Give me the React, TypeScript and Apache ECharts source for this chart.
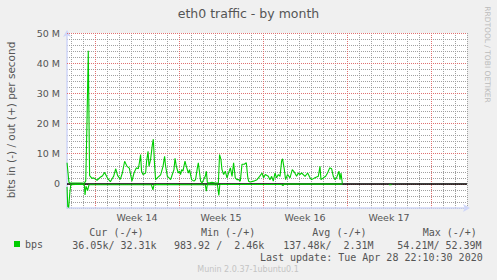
import React, { useEffect, useRef } from "react";
import * as echarts from "echarts";

// x = days since Monday 30 Mar 2020 00:00 (start of Week 14), y = Mbit/s
const outTraffic: [number, number][] = [
  [-2.33, 7.0], [-2.17, 0.5], [-2.06, 0.3], [-1.64, 0.3], [-1.12, 0.3], [-0.89, 0.2], [-0.77, 1.0],
  [-0.67, 20], [-0.56, 44.1], [-0.45, 2.7], [-0.25, 1.8], [-0.12, 2.0], [0.17, 1.2], [0.44, 2.2],
  [0.63, 2.7], [0.8, 3.8], [1.03, 2.0], [1.28, 0.7], [1.55, 2.5], [1.73, 5.0], [1.88, 2.8], [2.11, 1.5],
  [2.28, 3.6], [2.47, 7.5], [2.67, 5.8], [2.86, 5.2], [3.08, 0.9], [3.25, 3.6], [3.44, 5.3], [3.61, 5.0],
  [3.72, 7.5], [3.8, 9.7], [3.88, 4.2], [4.0, 3.1], [4.22, 3.6], [4.3, 7.5], [4.42, 10.8], [4.5, 5.8],
  [4.63, 8.0], [4.78, 13.0], [4.86, 14.8], [4.97, 5.8], [5.05, 1.4], [5.19, 2.0], [5.33, 2.5], [5.47, 3.0],
  [5.67, 5.8], [5.8, 9.1], [5.88, 6.0], [6.03, 2.5], [6.17, 2.0], [6.3, 1.4], [6.44, 3.1], [6.58, 4.7],
  [6.67, 8.5], [6.78, 5.8], [6.94, 3.6], [7.05, 4.2], [7.13, 3.1], [7.22, 4.7], [7.33, 4.2], [7.5, 7.5],
  [7.61, 5.8], [7.78, 3.6], [7.88, 4.7], [8.05, 1.4], [8.25, 0.9], [8.38, 1.4], [8.53, 5.3], [8.61, 7.0],
  [8.8, 0.9], [8.92, 0.3], [9.05, 1.4], [9.19, 2.5], [9.28, 4.2], [9.36, 0.5], [9.47, 0.3], [9.75, 0.5],
  [10.03, 0.3], [10.28, 0.3], [10.38, 9.7], [10.5, 8.0], [10.58, 4.7], [10.72, 3.1], [10.86, 4.2],
  [11.0, 2.0], [11.13, 3.6], [11.28, 5.3], [11.42, 2.5], [11.55, 7.0], [11.69, 2.0], [11.83, 1.4],
  [11.97, 1.4], [12.11, 0.9], [12.25, 6.5], [12.44, 6.5], [12.61, 7.0], [12.72, 2.5], [12.8, 0.9],
  [12.94, 0.6], [13.22, 0.9], [13.5, 1.4], [13.72, 2.5], [13.92, 3.6], [14.05, 2.0], [14.19, 3.1],
  [14.44, 2.5], [14.58, 1.4], [14.72, 2.5], [14.86, 0.9], [15.0, 3.6], [15.13, 2.0], [15.28, 3.1],
  [15.42, 2.5], [15.55, 7.5], [15.63, 8.3], [15.78, 4.7], [15.88, 1.4], [16.05, 3.1], [16.25, 2.0],
  [16.44, 4.7], [16.61, 3.9], [16.8, 2.5], [16.94, 3.6], [17.08, 3.1], [17.22, 3.6], [17.5, 2.5],
  [17.72, 3.6], [17.92, 2.0], [18.05, 1.4], [18.33, 2.0], [18.61, 2.5], [18.75, 5.8], [18.83, 1.4],
  [19.03, 2.0], [19.22, 2.5], [19.38, 3.6], [19.56, 5.3], [19.72, 5.0], [19.86, 2.5], [20.0, 1.4],
  [20.13, 2.0], [20.33, 4.2], [20.42, 1.4], [20.5, 3.6], [20.61, 0.2],
];

const inTraffic: [number, number | null][] = [
  [-2.33, -1.0], [-2.27, -7.5], [-2.19, -7.8], [-2.1, -3.0], [-2.02, -0.3], [-1.64, -0.2], [-1.0, -0.2],
  [-0.89, -0.3], [-0.83, -3.7], [-0.75, -0.8], [-0.62, -2.2], [-0.5, -0.3], [4.7, -0.3], [4.83, -2.0],
  [4.92, -0.2], [9.19, -0.3], [9.28, -2.4], [9.36, -0.2], [10.2, -0.3], [10.32, -3.8], [10.4, -0.2],
  [15.55, -0.2], [15.67, -0.6], [15.75, -0.1], [20.61, -0.1], [22.0, null], [24.5, -0.3], [24.72, -0.3],
];

const weekTicks = [3.5, 10.5, 17.5, 24.5];
const weekLabels = ["Week 14", "Week 15", "Week 16", "Week 17"];
const yLabelValues = [0, 10, 20, 30, 40, 50];

const statHeaders = ["Cur (-/+)", "Min (-/+)", "Avg (-/+)", "Max (-/+)"];
const statValues = ["36.05k/ 32.31k", "983.92 /  2.46k", "137.48k/  2.31M", "54.21M/ 52.39M"];
const seriesName = "bps";
const titleText = "eth0 traffic - by month";
const yAxisName = "bits in (-) / out (+) per second";
const lastUpdate = "Last update: Tue Apr 28 22:10:30 2020";
const watermark = "RRDTOOL / TOBI OETIKER";
const footer = "Munin 2.0.37-1ubuntu0.1";

// axis extents (days, Mbit/s)
const X_MIN = -2.333;
const X_MAX = 31;
const Y_MIN = -8;
const Y_MAX = 50;
const DAY_MIN = -2;
const WEEK_MIN = 0;
const WEEK_MAX = 28;
const MAJOR_Y_MIN = 0;

// plot frame (pixels)
const GRID_LEFT = 67;
const GRID_TOP = 33;
const GRID_W = 400;
const GRID_H = 175;
const PX_PER_DAY = GRID_W / (X_MAX - X_MIN);
const PX_PER_M = GRID_H / (Y_MAX - Y_MIN);

const GREEN = "#00CC00";
const FONT_COLOR = "#555555";
const MONO = "'DejaVu Sans Mono', monospace";
const SANS = "'DejaVu Sans', sans-serif";
const MINOR = "#a0a0a0";
const MAJOR = "#e07070";

const nb = (s: string) => s.replace(/ /g, "\u00A0");

export default function App() {
  const ref = useRef<HTMLDivElement>(null);
  useEffect(() => {
    if (!ref.current) return;
    const chart = echarts.init(ref.current, undefined, { renderer: "svg" });

    const dayGrid = {
      left: GRID_LEFT + (DAY_MIN - X_MIN) * PX_PER_DAY,
      top: GRID_TOP,
      width: (X_MAX - DAY_MIN) * PX_PER_DAY,
      height: GRID_H,
    };
    const weekGrid = {
      left: GRID_LEFT + (WEEK_MIN - X_MIN) * PX_PER_DAY,
      top: GRID_TOP,
      width: (WEEK_MAX - WEEK_MIN) * PX_PER_DAY,
      height: GRID_H,
    };
    const majorYGrid = {
      left: GRID_LEFT,
      top: GRID_TOP,
      width: GRID_W,
      height: (Y_MAX - MAJOR_Y_MIN) * PX_PER_M,
    };

    const hidden = { show: false };
    const gridAxis = (gridIndex: number, min: number, max: number, interval: number, color: string, z: number) => ({
      type: "value",
      gridIndex,
      min,
      max,
      interval,
      z,
      axisLine: hidden,
      axisTick: hidden,
      axisLabel: hidden,
      splitLine: { show: true, lineStyle: { color, width: 1, type: "dotted" } },
    });
    const blankAxis = (gridIndex: number) => ({
      type: "value",
      gridIndex,
      min: 0,
      max: 1,
      show: false,
    });

    const colX = [72.3, 174, 283.3, 397.3];
    const headX = [89.3, 201, 312.3, 422.7];

    const graphic: any[] = [
      {
        type: "text",
        x: 10.5,
        y: 120,
        rotation: Math.PI / 2,
        style: { text: yAxisName, fill: FONT_COLOR, fontSize: 10.5, fontFamily: SANS, align: "center", verticalAlign: "middle", textAlign: "center", textVerticalAlign: "middle" },
      },
      {
        type: "text",
        x: 487.5,
        y: 54.5,
        rotation: -Math.PI / 2,
        style: { text: watermark, fill: "#bbbbbb", fontSize: 7.5, fontFamily: SANS, align: "center", verticalAlign: "middle", textAlign: "center", textVerticalAlign: "middle" },
      },
      ...statHeaders.map((h, i) => ({
        type: "text",
        x: headX[i],
        y: 232.5,
        style: { text: nb(h), fill: FONT_COLOR, fontSize: 10, fontFamily: MONO, align: "left", verticalAlign: "middle", textAlign: "left", textVerticalAlign: "middle" },
      })),
      ...statValues.map((v, i) => ({
        type: "text",
        x: colX[i],
        y: 245,
        style: { text: nb(v), fill: FONT_COLOR, fontSize: 10, fontFamily: MONO, align: "left", verticalAlign: "middle", textAlign: "left", textVerticalAlign: "middle" },
      })),
      {
        type: "text",
        x: 482.7,
        y: 257,
        style: { text: nb(lastUpdate), fill: FONT_COLOR, fontSize: 10, fontFamily: MONO, align: "right", verticalAlign: "middle", textAlign: "right", textVerticalAlign: "middle" },
      },
      {
        type: "text",
        x: 248,
        y: 269,
        style: { text: footer, fill: "#c4c4c4", fontSize: 8, fontFamily: SANS, align: "center", verticalAlign: "middle", textAlign: "center", textVerticalAlign: "middle" },
      },
    ];

    chart.setOption({
      animation: false,
      backgroundColor: "transparent",
      title: {
        text: titleText,
        left: "center",
        top: 7,
        padding: 0,
        textStyle: { fontSize: 12.5, fontWeight: "normal", color: FONT_COLOR, fontFamily: SANS },
      },
      legend: {
        data: [{ name: seriesName, icon: "rect" }],
        left: 9,
        top: 234,
        itemWidth: 6,
        itemHeight: 6,
        selectedMode: false,
        textStyle: { fontFamily: MONO, fontSize: 10, color: FONT_COLOR },
      },
      grid: [
        { left: GRID_LEFT, top: GRID_TOP, width: GRID_W, height: GRID_H, show: false },
        { ...dayGrid, show: false },
        { ...weekGrid, show: false },
        { ...majorYGrid, show: false },
      ],
      xAxis: [
        {
          type: "value",
          gridIndex: 0,
          min: X_MIN,
          max: X_MAX,
          z: 2,
          axisLine: {
            onZero: false,
            lineStyle: { color: "#CFD6F8", width: 1.5 },
            symbol: ["none", "arrow"],
            symbolSize: [6, 7],
            symbolOffset: [0, 3],
          },
          axisTick: { show: false },
          splitLine: { show: false },
          axisLabel: {
            customValues: weekTicks,
            formatter: (v: number) => {
              const i = weekTicks.indexOf(v);
              return i >= 0 ? weekLabels[i] : "";
            },
            color: FONT_COLOR,
            fontSize: 9.5,
            fontFamily: SANS,
            margin: 4,
          },
        },
        gridAxis(1, DAY_MIN, X_MAX, 1, MINOR, 0),
        gridAxis(2, WEEK_MIN, WEEK_MAX, 7, MAJOR, 1),
        blankAxis(3),
      ],
      yAxis: [
        {
          type: "value",
          gridIndex: 0,
          min: Y_MIN,
          max: Y_MAX,
          interval: 2,
          z: 0,
          axisLine: {
            show: true,
            onZero: false,
            lineStyle: { color: "#CFD6F8", width: 1.5 },
            symbol: ["none", "arrow"],
            symbolSize: [6, 7],
            symbolOffset: [0, 3],
          },
          axisTick: { show: false },
          splitLine: { show: true, lineStyle: { color: MINOR, width: 1, type: "dotted" } },
          axisLabel: {
            formatter: (v: number) =>
              yLabelValues.includes(v) ? (v === 0 ? "0" : v + " M") : "",
            color: FONT_COLOR,
            fontSize: 9.5,
            fontFamily: SANS,
            margin: 7,
          },
        },
        blankAxis(1),
        blankAxis(2),
        gridAxis(3, MAJOR_Y_MIN, Y_MAX, 10, MAJOR, 1),
      ],
      graphic,
      series: [
        {
          type: "line",
          name: seriesName,
          data: outTraffic,
          showSymbol: false,
          symbol: "none",
          color: GREEN,
          lineStyle: { color: GREEN, width: 1.1 },
          z: 10,
        },
        {
          type: "line",
          name: seriesName,
          data: inTraffic,
          showSymbol: false,
          symbol: "none",
          connectNulls: false,
          color: GREEN,
          lineStyle: { color: GREEN, width: 1.1 },
          z: 10,
        },
        {
          type: "line",
          name: "zero",
          data: [],
          silent: true,
          z: 12,
          markLine: {
            silent: true,
            symbol: ["none", "none"],
            label: { show: false },
            animation: false,
            lineStyle: { color: "#000000", width: 1.6, type: "solid" },
            data: [{ yAxis: 0 }],
          },
        },
      ],
    });
    return () => chart.dispose();
  }, []);

  return (
    <div style={{ position: "fixed", left: 0, top: 0, width: 497, height: 280, background: "#F0F0F0" }}>
      <div
        style={{
          position: "absolute",
          left: GRID_LEFT,
          top: GRID_TOP,
          width: GRID_W,
          height: GRID_H,
          background: "#FFFFFF",
        }}
      />
      <div ref={ref} style={{ position: "absolute", left: 0, top: 0, width: 497, height: 280 }} />
    </div>
  );
}
